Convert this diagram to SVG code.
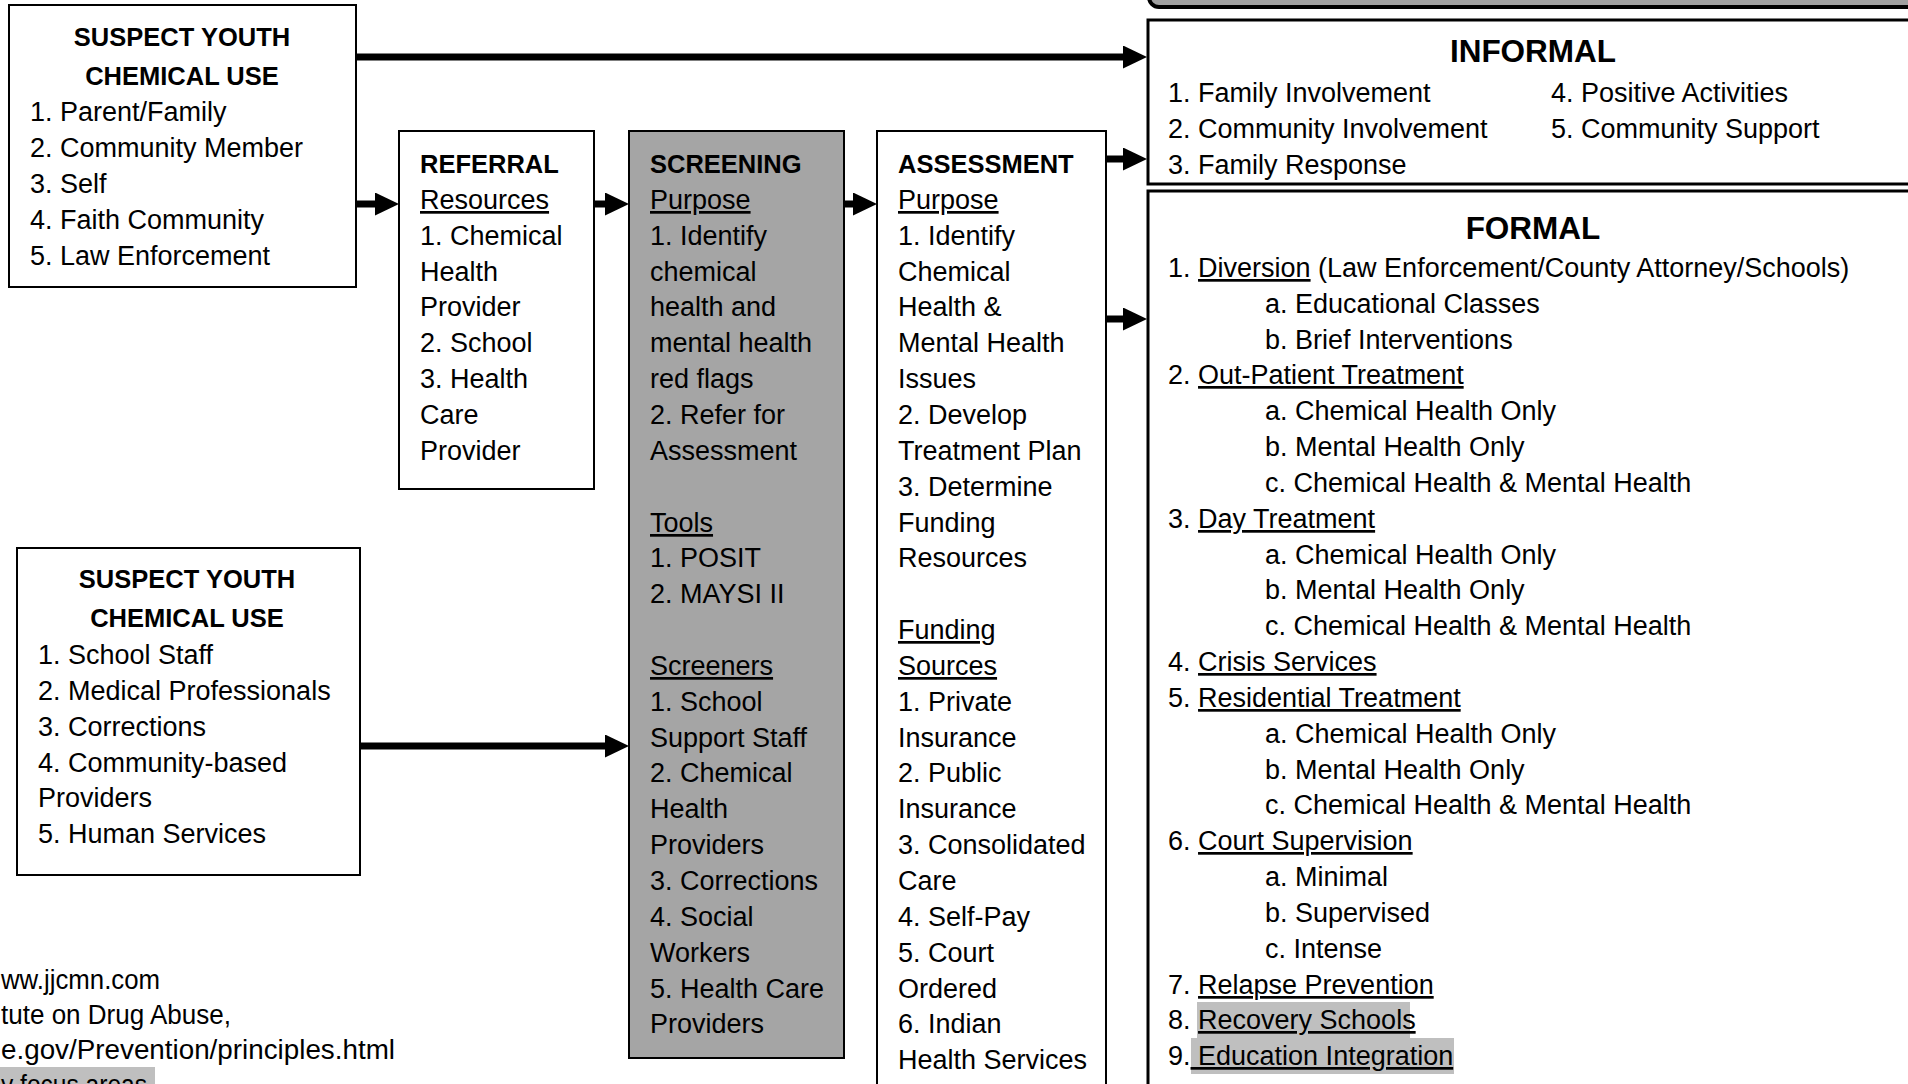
<svg xmlns="http://www.w3.org/2000/svg" width="1908" height="1084" viewBox="0 0 1908 1084">
<style>
  text { font-family: "Liberation Sans", Arial, sans-serif; font-size: 27px; fill: #000; }
  .t { font-weight: bold; font-size: 25.5px; }
  .big { font-weight: bold; font-size: 31.5px; text-anchor: middle; }
  .c { text-anchor: middle; }
  .u { text-decoration: underline; }
  .box { fill: #fff; stroke: #000; stroke-width: 2; }
  .grey { fill: #a5a5a5; stroke: #000; stroke-width: 2; }
  .wide { fill: #fff; stroke: #000; stroke-width: 3; }
  .hl { fill: #bfbfbf; }
  .arrow { stroke: #000; stroke-width: 7; fill: none; marker-end: url(#head); }
</style>
<defs>
  <marker id="head" markerUnits="userSpaceOnUse" markerWidth="24" markerHeight="23" refX="0" refY="11.5" orient="auto">
    <path d="M0,0 L24,11.5 L0,23 Z" fill="#000"/>
  </marker>
</defs>
<rect width="1908" height="1084" fill="#fff"/>

<g id="top-banner">
  <rect x="1149" y="-50" width="800" height="57" rx="10" fill="#a0a0a0" stroke="#000" stroke-width="4"/>
</g>

<g id="suspect-1">
  <rect class="box" x="9" y="5" width="347" height="282"/>
  <text class="t c" x="182" y="46">SUSPECT YOUTH</text>
  <text class="t c" x="182" y="85">CHEMICAL USE</text>
  <text x="30" y="121">1. Parent/Family</text>
  <text x="30" y="157">2. Community Member</text>
  <text x="30" y="193">3. Self</text>
  <text x="30" y="229">4. Faith Community</text>
  <text x="30" y="265">5. Law Enforcement</text>
</g>

<g id="suspect-2">
  <rect class="box" x="17" y="548" width="343" height="327"/>
  <text class="t c" x="187" y="588">SUSPECT YOUTH</text>
  <text class="t c" x="187" y="627">CHEMICAL USE</text>
  <text x="38" y="664">1. School Staff</text>
  <text x="38" y="700">2. Medical Professionals</text>
  <text x="38" y="736">3. Corrections</text>
  <text x="38" y="772">4. Community-based</text>
  <text x="38" y="807">Providers</text>
  <text x="38" y="843">5. Human Services</text>
</g>

<g id="referral">
  <rect class="box" x="399" y="131" width="195" height="358"/>
  <text class="t" x="420" y="173">REFERRAL</text>
  <text class="u" x="420" y="209">Resources</text>
  <text x="420" y="245">1. Chemical</text>
  <text x="420" y="281">Health</text>
  <text x="420" y="316">Provider</text>
  <text x="420" y="352">2. School</text>
  <text x="420" y="388">3. Health</text>
  <text x="420" y="424">Care</text>
  <text x="420" y="460">Provider</text>
</g>

<g id="screening">
  <rect class="grey" x="629" y="131" width="215" height="927"/>
  <text class="t" x="650" y="173">SCREENING</text>
  <text class="u" x="650" y="209">Purpose</text>
  <text x="650" y="245">1. Identify</text>
  <text x="650" y="281">chemical</text>
  <text x="650" y="316">health and</text>
  <text x="650" y="352">mental health</text>
  <text x="650" y="388">red flags</text>
  <text x="650" y="424">2. Refer for</text>
  <text x="650" y="460">Assessment</text>
  <text class="u" x="650" y="532">Tools</text>
  <text x="650" y="567">1. POSIT</text>
  <text x="650" y="603">2. MAYSI II</text>
  <text class="u" x="650" y="675">Screeners</text>
  <text x="650" y="711">1. School</text>
  <text x="650" y="747">Support Staff</text>
  <text x="650" y="782">2. Chemical</text>
  <text x="650" y="818">Health</text>
  <text x="650" y="854">Providers</text>
  <text x="650" y="890">3. Corrections</text>
  <text x="650" y="926">4. Social</text>
  <text x="650" y="962">Workers</text>
  <text x="650" y="998">5. Health Care</text>
  <text x="650" y="1033">Providers</text>
</g>

<g id="assessment">
  <rect class="box" x="877" y="131" width="229" height="970"/>
  <text class="t" x="898" y="173">ASSESSMENT</text>
  <text class="u" x="898" y="209">Purpose</text>
  <text x="898" y="245">1. Identify</text>
  <text x="898" y="281">Chemical</text>
  <text x="898" y="316">Health &amp;</text>
  <text x="898" y="352">Mental Health</text>
  <text x="898" y="388">Issues</text>
  <text x="898" y="424">2. Develop</text>
  <text x="898" y="460">Treatment Plan</text>
  <text x="898" y="496">3. Determine</text>
  <text x="898" y="532">Funding</text>
  <text x="898" y="567">Resources</text>
  <text class="u" x="898" y="639">Funding</text>
  <text class="u" x="898" y="675">Sources</text>
  <text x="898" y="711">1. Private</text>
  <text x="898" y="747">Insurance</text>
  <text x="898" y="782">2. Public</text>
  <text x="898" y="818">Insurance</text>
  <text x="898" y="854">3. Consolidated</text>
  <text x="898" y="890">Care</text>
  <text x="898" y="926">4. Self-Pay</text>
  <text x="898" y="962">5. Court</text>
  <text x="898" y="998">Ordered</text>
  <text x="898" y="1033">6. Indian</text>
  <text x="898" y="1069">Health Services</text>
</g>

<g id="informal">
  <rect class="wide" x="1148" y="20" width="780" height="164"/>
  <text class="big" x="1533" y="62">INFORMAL</text>
  <text x="1168" y="102">1. Family Involvement</text>
  <text x="1168" y="138">2. Community Involvement</text>
  <text x="1168" y="174">3. Family Response</text>
  <text x="1551" y="102">4. Positive Activities</text>
  <text x="1551" y="138">5. Community Support</text>
</g>

<g id="formal">
  <rect class="wide" x="1148" y="191" width="780" height="910"/>
  <rect class="hl" x="1197" y="1002" width="213" height="36"/>
  <rect class="hl" x="1191" y="1038" width="263" height="36"/>
  <text class="big" x="1533" y="239">FORMAL</text>
  <text x="1168" y="277">1. <tspan class="u">Diversion</tspan> (Law Enforcement/County Attorney/Schools)</text>
  <text x="1265" y="313">a. Educational Classes</text>
  <text x="1265" y="349">b. Brief Interventions</text>
  <text x="1168" y="384">2. <tspan class="u">Out-Patient Treatment</tspan></text>
  <text x="1265" y="420">a. Chemical Health Only</text>
  <text x="1265" y="456">b. Mental Health Only</text>
  <text x="1265" y="492">c. Chemical Health &amp; Mental Health</text>
  <text x="1168" y="528">3. <tspan class="u">Day Treatment</tspan></text>
  <text x="1265" y="564">a. Chemical Health Only</text>
  <text x="1265" y="599">b. Mental Health Only</text>
  <text x="1265" y="635">c. Chemical Health &amp; Mental Health</text>
  <text x="1168" y="671">4. <tspan class="u">Crisis Services</tspan></text>
  <text x="1168" y="707">5. <tspan class="u">Residential Treatment</tspan></text>
  <text x="1265" y="743">a. Chemical Health Only</text>
  <text x="1265" y="779">b. Mental Health Only</text>
  <text x="1265" y="814">c. Chemical Health &amp; Mental Health</text>
  <text x="1168" y="850">6. <tspan class="u">Court Supervision</tspan></text>
  <text x="1265" y="886">a. Minimal</text>
  <text x="1265" y="922">b. Supervised</text>
  <text x="1265" y="958">c. Intense</text>
  <text x="1168" y="994">7. <tspan class="u">Relapse Prevention</tspan></text>
  <text x="1168" y="1029">8. <tspan class="u">Recovery Schools</tspan></text>
  <text x="1168" y="1065" xml:space="preserve">9.<tspan class="u"> Education Integration</tspan></text>
</g>

<g id="footer">
  <rect class="hl" x="0" y="1067" width="155" height="20"/>
  <text x="1" y="989" textLength="159" lengthAdjust="spacingAndGlyphs">ww.jjcmn.com</text>
  <text x="1" y="1024" textLength="230" lengthAdjust="spacingAndGlyphs">tute on Drug Abuse,</text>
  <text x="1" y="1059" textLength="394" lengthAdjust="spacingAndGlyphs">e.gov/Prevention/principles.html</text>
  <text x="1" y="1094" textLength="146" lengthAdjust="spacingAndGlyphs">y focus areas</text>
</g>

<g id="connectors">
  <line class="arrow" x1="356" y1="57" x2="1123" y2="57"/>
  <line class="arrow" x1="356" y1="204" x2="375" y2="204"/>
  <line class="arrow" x1="594" y1="204" x2="605" y2="204"/>
  <line class="arrow" x1="844" y1="204" x2="853" y2="204"/>
  <line class="arrow" x1="1106" y1="159" x2="1123" y2="159"/>
  <line class="arrow" x1="1106" y1="319" x2="1123" y2="319"/>
  <line class="arrow" x1="360" y1="746" x2="605" y2="746"/>
</g>
</svg>
